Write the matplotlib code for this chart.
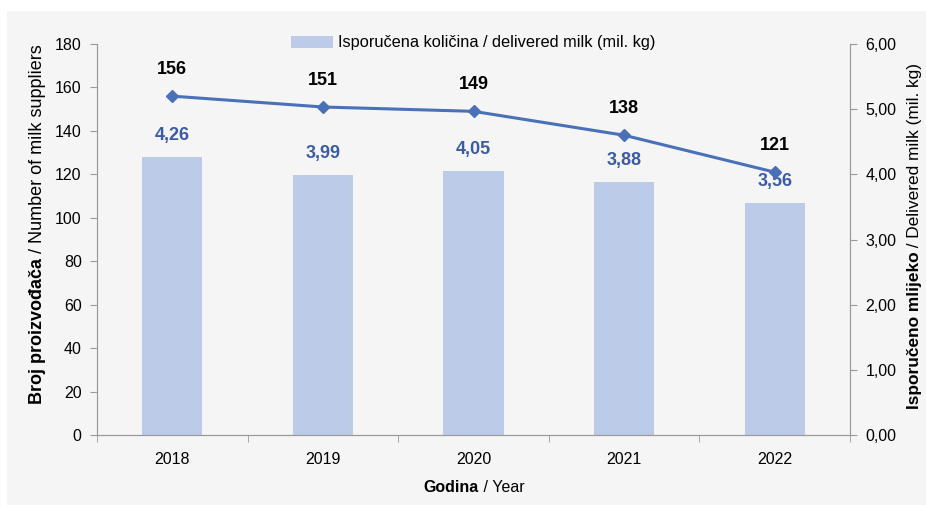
import matplotlib
matplotlib.use("Agg")
import matplotlib.pyplot as plt
from matplotlib.patches import Rectangle, Patch

years = ["2018", "2019", "2020", "2021", "2022"]
milk_delivered = [4.26, 3.99, 4.05, 3.88, 3.56]   # mil. kg
suppliers = [156, 151, 149, 138, 121]

bar_color = "#bccbe8"
line_color = "#4a70b8"
label_blue = "#3a5ba5"
spine_gray = "#9a9a9a"
bg_gray = "#f5f5f5"

plt.rcParams["font.family"] = ["Liberation Sans", "DejaVu Sans"]
tick_fs = 11.5
val_fs = 13

W, H = 926, 505
fig = plt.figure(figsize=(W / 100, H / 100), dpi=100)
fig.patch.set_facecolor("white")
fig.add_artist(Rectangle((7 / W, 0), 1 - 7 / W, 1 - 11 / H, transform=fig.transFigure,
                         facecolor=bg_gray, edgecolor="none", zorder=-10))

left, right, top, bottom = 97, 850, 44, 435
ax2 = fig.add_axes([left / W, 1 - bottom / H, (right - left) / W, (bottom - top) / H])
ax2.set_facecolor("none")
ax = ax2.twinx()
ax.yaxis.tick_left()
ax2.yaxis.tick_right()

x = list(range(len(years)))
ax2.bar(x, milk_delivered, width=0.4, color=bar_color, zorder=2)
ax2.set_ylim(0, 6)
ax2.set_yticks(range(0, 7))
ax2.set_yticklabels([f"{v:.2f}".replace(".", ",") for v in range(0, 7)])
for xi, v in zip(x, milk_delivered):
    ax2.annotate(f"{v:.2f}".replace(".", ","), (xi, v), xytext=(0, 15.5),
                 textcoords="offset points", ha="center", va="center",
                 color=label_blue, fontsize=val_fs, fontweight="bold")

ax.plot(x, suppliers, color=line_color, lw=2.2, marker="D", ms=6.5, zorder=3)
ax.set_ylim(0, 180)
ax.set_yticks(range(0, 181, 20))
for xi, v in zip(x, suppliers):
    ax.annotate(str(v), (xi, v), xytext=(0, 19),
                textcoords="offset points", ha="center", va="center",
                color="black", fontsize=val_fs, fontweight="bold")

ax2.set_xlim(-0.5, len(years) - 0.5)
ax2.set_xticks(x)
ax2.set_xticklabels(years)
ax2.set_xticks([i - 0.5 for i in range(len(years) + 1)], minor=True)
ax2.tick_params(axis="x", which="major", length=0, pad=12, labelsize=tick_fs)
ax2.tick_params(axis="x", which="minor", length=5, color=spine_gray)

for a in (ax, ax2):
    a.spines["top"].set_visible(False)
    for s in ("left", "right", "bottom"):
        a.spines[s].set_color(spine_gray)
ax.tick_params(axis="y", length=5, color=spine_gray, labelsize=tick_fs, pad=6)
ax2.tick_params(axis="y", length=5, color=spine_gray, labelsize=tick_fs, pad=6)

fig.canvas.draw()
renderer = fig.canvas.get_renderer()


def fitted_size(parts, target_px, base=10.0):
    """Font size at which the concatenated parts span target_px."""
    total = 0.0
    for txt, weight in parts:
        t = fig.text(0, 0, txt, fontsize=base, fontweight=weight)
        total += t.get_window_extent(renderer).width
        t.remove()
    return base * target_px / total


def two_part(xp, yp, bold, normal, rotation, size):
    tb = fig.text(0, 0, bold, fontweight="bold", fontsize=size, rotation=rotation)
    tn = fig.text(0, 0, normal, fontsize=size, rotation=rotation)
    eb = tb.get_window_extent(renderer)
    en = tn.get_window_extent(renderer)
    if rotation == 0:
        x0 = xp - (eb.width + en.width) / 2
        tb.set_position((x0 / W, 1 - yp / H))
        tn.set_position(((x0 + eb.width) / W, 1 - yp / H))
        for t in (tb, tn):
            t.set_va("center")
    else:
        y0 = (H - yp) - (eb.height + en.height) / 2
        tb.set_position((xp / W, y0 / H))
        tn.set_position((xp / W, (y0 + eb.height) / H))
        for t in (tb, tn):
            t.set_ha("center")
            t.set_va("bottom")


two_part(474, 487, "Godina", " / Year", 0, 11.5)
ylab_l = [("Broj proizvođača", "bold"), (" / Number of milk suppliers", "normal")]
two_part(38, 224, ylab_l[0][0], ylab_l[1][0], 90, min(13, fitted_size(ylab_l, 370)))
ylab_r = [("Isporučeno mlijeko", "bold"), (" / Delivered milk (mil. kg)", "normal")]
two_part(914, 236, ylab_r[0][0], ylab_r[1][0], 90, min(12.5, fitted_size(ylab_r, 346)))

leg_label = "Isporučena količina / delivered milk (mil. kg)"
fig.legend(handles=[Patch(facecolor=bar_color, edgecolor="none", label=leg_label)],
           loc="center", bbox_to_anchor=(473 / W, 1 - 43 / H), frameon=False,
           fontsize=fitted_size([(leg_label, "normal")], 319),
           handlelength=2.6, handleheight=0.7, handletextpad=0.3)

fig.savefig("out.png", dpi=100, facecolor=fig.get_facecolor())
